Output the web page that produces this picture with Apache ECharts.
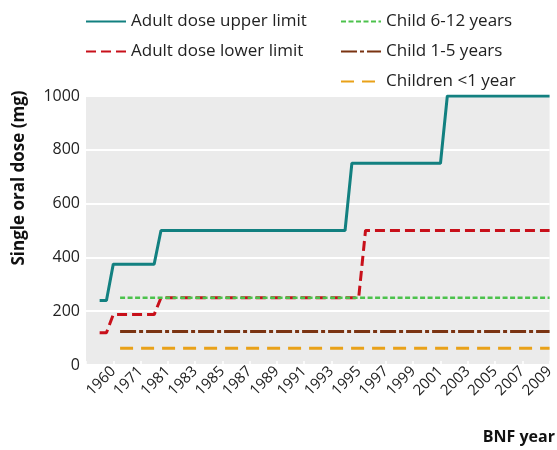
<!DOCTYPE html>
<html><head><meta charset="utf-8">
<script src="https://cdn.jsdelivr.net/npm/echarts@6/dist/echarts.min.js"></script>
<style>html,body{margin:0;padding:0;background:#fff}#c{width:557px;height:450px}</style>
</head><body><div id="c"></div>
<script>
// Tick labels, one per 4 edition slots (slot 0 is unlabelled)
const tickLabels = ['', '1960','1971','1981','1983','1985','1987','1989','1991','1993','1995','1997','1999','2001','2003','2005','2007','2009'];
// [edition slot, single oral dose mg]
const adultUpper = [[2,240],[3,240],[4,375],[10,375],[11,500],[38,500],[39,750],[52,750],[53,1000],[68,1000]];
const adultLower = [[2,120],[3,120],[4,187.5],[10,187.5],[11,250],[40,250],[41,500],[68,500]];
const child612 = [[5,250],[68,250]];
const child15 = [[5,125],[68,125]];
const childLt1 = [[5,62.5],[68,62.5]];

const FONT = 'Open Sans';
const chart = echarts.init(document.getElementById('c'), null, {renderer:'canvas'});
function ser(name, data, color, width, dash){
  return {name, type:'line', data, symbol:'none', animation:false,
    lineStyle:{color, width, type:dash, cap:'butt'}, itemStyle:{color}};
}
const legendCommon = {orient:'vertical', top:8, itemWidth:40, itemHeight:14, itemGap:13,
  itemStyle:{opacity:0}, textStyle:{fontFamily:FONT, fontSize:17, color:'#222'}};
chart.setOption({
  animation:false,
  textStyle:{fontFamily:FONT},
  grid:{left:86, right:7, top:96, bottom:85, show:true, backgroundColor:'#ebebeb', borderWidth:0, containLabel:false},
  legend:[
    Object.assign({data:['Adult dose upper limit','Adult dose lower limit'], left:80}, legendCommon),
    Object.assign({data:['Child 6-12 years','Child 1-5 years','Children <1 year'], left:335}, legendCommon)
  ],
  xAxis:{type:'value', min:0, max:68, interval:4,
    axisLine:{show:false}, splitLine:{show:false},
    axisTick:{show:true, inside:true, length:4, lineStyle:{color:'#fff', width:1.5}},
    axisLabel:{rotate:45, fontSize:15, color:'#222', margin:4, fontFamily:FONT,
      formatter:v=>tickLabels[Math.round(v/4)]}},
  yAxis:{type:'value', min:0, max:1000, interval:200,
    axisLine:{show:false}, axisTick:{show:false},
    splitLine:{lineStyle:{color:'#fff', width:2}},
    axisLabel:{fontSize:16, color:'#222', margin:6, fontFamily:FONT, formatter:v=>String(v)}},
  graphic:[
    {type:'text', x:19, y:178, rotation:Math.PI/2,
     style:{text:'Single oral dose (mg)', fontFamily:FONT, fontWeight:'bold', fontSize:17, fill:'#111', align:'center', verticalAlign:'middle'}},
    {type:'text', x:555, y:437,
     style:{text:'BNF year', fontFamily:FONT, fontWeight:'bold', fontSize:16, fill:'#111', align:'right', verticalAlign:'middle'}}
  ],
  series:[
    ser('Adult dose upper limit', adultUpper, '#128080', 3, 'solid'),
    ser('Adult dose lower limit', adultLower, '#c8101a', 3, [10,5]),
    ser('Child 6-12 years', child612, '#4cc24c', 2.5, [5,2.5]),
    ser('Child 1-5 years', child15, '#7a3311', 3, [16,3,4,3]),
    ser('Children <1 year', childLt1, '#e9a118', 3, [13,8])
  ]
});
</script></body></html>
